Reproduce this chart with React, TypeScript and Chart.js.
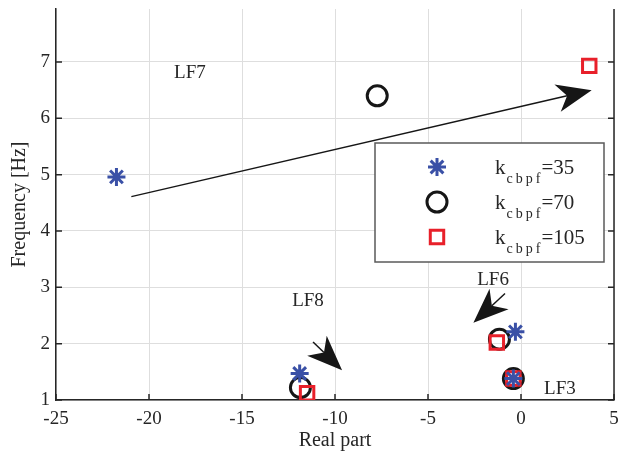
import React, { useEffect, useRef } from "react";
import { Chart, registerables } from "chart.js";

Chart.register(...registerables);

// ---- data ----
const modes = ["LF7", "LF8", "LF6", "LF3"];
const realK35 = [-21.75, -11.9, -0.3, -0.41];
const freqK35 = [4.96, 1.47, 2.21, 1.38];
const realK70 = [-7.73, -11.86, -1.16, -0.41];
const freqK70 = [6.4, 1.22, 2.08, 1.38];
const realK105 = [3.67, -11.5, -1.3, -0.41];
const freqK105 = [6.93, 1.12, 2.02, 1.38];

const seriesNames = ["35", "70", "105"];

// arrows: [x0, y0, x1, y1] in data units
const arrowLF7 = [-20.95, 4.61, 3.8, 6.5];
const arrowLF8 = [-11.18, 2.03, -9.62, 1.53];
const arrowLF6 = [-0.86, 2.89, -2.56, 2.37];
const arrows = [arrowLF7, arrowLF8, arrowLF6];

// annotation labels
const labelText = ["LF7", "LF8", "LF6", "LF3"];
const labelX = [-17.8, -11.45, -1.5, 2.09];
const labelY = [6.8, 2.75, 3.13, 1.19];

const xTicks = [-25, -20, -15, -10, -5, 0, 5];
const yTicks = [1, 2, 3, 4, 5, 6, 7];

const BLUE = "#3a50a6";
const RED = "#e8202a";
const BLACK = "#161616";
const AXIS = "#262626";
const FONT = "'Liberation Serif', 'Times New Roman', serif";

const toPts = (xs: number[], ys: number[]) => xs.map((x, i) => ({ x, y: ys[i] }));

function drawMarker(ctx: CanvasRenderingContext2D, style: string, x: number, y: number, r: number) {
  ctx.beginPath();
  if (style === "circle") {
    ctx.arc(x, y, r, 0, Math.PI * 2);
  } else if (style === "rect") {
    const s = Math.SQRT1_2 * r;
    ctx.rect(x - s, y - s, 2 * s, 2 * s);
  } else {
    for (let k = 0; k < 4; k++) {
      const a = (k * Math.PI) / 4;
      ctx.moveTo(x + Math.cos(a) * r, y + Math.sin(a) * r);
      ctx.lineTo(x - Math.cos(a) * r, y - Math.sin(a) * r);
    }
  }
  ctx.stroke();
}

const overlayPlugin = {
  id: "overlay",
  afterDatasetsDraw(chart: any) {
    const { ctx, chartArea, scales } = chart;
    const xs = scales.x;
    const ys = scales.y;
    ctx.save();

    // right axis line + inward ticks
    ctx.strokeStyle = AXIS;
    ctx.lineWidth = 1.5;
    ctx.beginPath();
    ctx.moveTo(chartArea.right, chartArea.top);
    ctx.lineTo(chartArea.right, chartArea.bottom);
    ctx.stroke();
    yTicks.forEach((v) => {
      const py = ys.getPixelForValue(v);
      ctx.beginPath();
      ctx.moveTo(chartArea.left, py);
      ctx.lineTo(chartArea.left + 6, py);
      ctx.moveTo(chartArea.right, py);
      ctx.lineTo(chartArea.right - 6, py);
      ctx.stroke();
    });
    xTicks.forEach((v) => {
      const px = xs.getPixelForValue(v);
      ctx.beginPath();
      ctx.moveTo(px, chartArea.bottom);
      ctx.lineTo(px, chartArea.bottom - 6);
      ctx.stroke();
    });

    // arrows
    ctx.fillStyle = BLACK;
    ctx.strokeStyle = BLACK;
    arrows.forEach((a) => {
      const x0 = xs.getPixelForValue(a[0]);
      const y0 = ys.getPixelForValue(a[1]);
      const x1 = xs.getPixelForValue(a[2]);
      const y1 = ys.getPixelForValue(a[3]);
      const dx = x1 - x0;
      const dy = y1 - y0;
      const len = Math.hypot(dx, dy);
      const ux = dx / len;
      const uy = dy / len;
      const nx = -uy;
      const ny = ux;
      const L = 35;
      const W = 14;
      const N = 0.72 * L;
      ctx.lineWidth = 1.5;
      ctx.beginPath();
      ctx.moveTo(x0, y0);
      ctx.lineTo(x1 - ux * N, y1 - uy * N);
      ctx.stroke();
      ctx.beginPath();
      ctx.moveTo(x1, y1);
      ctx.lineTo(x1 - ux * L + nx * W, y1 - uy * L + ny * W);
      ctx.lineTo(x1 - ux * N, y1 - uy * N);
      ctx.lineTo(x1 - ux * L - nx * W, y1 - uy * L - ny * W);
      ctx.closePath();
      ctx.fill();
    });

    // text labels
    ctx.fillStyle = AXIS;
    ctx.font = `19px ${FONT}`;
    ctx.textAlign = "center";
    ctx.textBaseline = "middle";
    labelText.forEach((t, i) => {
      ctx.fillText(t, xs.getPixelForValue(labelX[i]), ys.getPixelForValue(labelY[i]));
    });

    // legend
    const bx = chartArea.left + 319;
    const by = chartArea.top + 134;
    const bw = 229;
    const bh = 119;
    ctx.fillStyle = "#ffffff";
    ctx.fillRect(bx, by, bw, bh);
    ctx.strokeStyle = "#5a5a5a";
    ctx.lineWidth = 1.5;
    ctx.strokeRect(bx, by, bw, bh);
    const styles = [
      { style: "star", color: BLUE, r: 9, w: 3 },
      { style: "circle", color: BLACK, r: 10, w: 3 },
      { style: "rect", color: RED, r: 9.5, w: 3 },
    ];
    seriesNames.forEach((name, i) => {
      const cy = by + 24 + i * 35;
      const s = styles[i];
      ctx.strokeStyle = s.color;
      ctx.lineWidth = s.w;
      drawMarker(ctx, s.style, chartArea.left + 381, cy, s.r);
      const tx = chartArea.left + 439;
      const base = cy + 7;
      ctx.fillStyle = AXIS;
      ctx.textAlign = "left";
      ctx.textBaseline = "alphabetic";
      ctx.font = `21px ${FONT}`;
      ctx.fillText("k", tx, base);
      let cx = tx + ctx.measureText("k").width;
      ctx.font = `14px ${FONT}`;
      for (const ch of "cbpf") {
        ctx.fillText(ch, cx + 1, base + 9);
        cx += ctx.measureText(ch).width + 3;
      }
      ctx.font = `21px ${FONT}`;
      ctx.fillText("=" + name, cx - 1, base);
    });

    ctx.restore();
  },
};

export default function App() {
  const ref = useRef<HTMLCanvasElement | null>(null);
  useEffect(() => {
    document.body.style.margin = "0";
    const canvas = ref.current;
    if (!canvas) return;
    const chart = new Chart(canvas, {
      type: "scatter",
      data: {
        labels: modes,
        datasets: [
          {
            label: "k35",
            data: toPts(realK35, freqK35),
            pointStyle: "star",
            pointRadius: 9,
            pointBorderWidth: 3,
            borderColor: BLUE,
            backgroundColor: "rgba(0,0,0,0)",
            order: 0,
          },
          {
            label: "k70",
            data: toPts(realK70, freqK70),
            pointStyle: "circle",
            pointRadius: 10,
            pointBorderWidth: 3,
            borderColor: BLACK,
            backgroundColor: "rgba(0,0,0,0)",
            order: 2,
          },
          {
            label: "k105",
            data: toPts(realK105, freqK105),
            pointStyle: "rect",
            pointRadius: 9.5,
            pointBorderWidth: 3,
            borderColor: RED,
            backgroundColor: "rgba(0,0,0,0)",
            order: 1,
          },
        ],
      },
      options: {
        animation: false,
        responsive: false,
        maintainAspectRatio: false,
        layout: { autoPadding: false, padding: { top: 9, right: 4, left: 0, bottom: 0 } },
        plugins: {
          legend: { display: false },
          tooltip: { enabled: false },
        },
        scales: {
          x: {
            type: "linear",
            min: -25,
            max: 5,
            afterBuildTicks: (s: any) => {
              s.ticks = xTicks.map((v) => ({ value: v }));
            },
            afterFit: (s: any) => {
              s.height = 56;
              s.paddingLeft = 0;
              s.paddingRight = 0;
            },
            ticks: {
              color: AXIS,
              font: { family: FONT, size: 19 },
              padding: 8,
              maxRotation: 0,
              autoSkip: false,
            },
            grid: { color: "#dedede", lineWidth: 1, drawTicks: false },
            border: { display: true, color: AXIS, width: 1.5 },
            title: {
              display: true,
              text: "Real part",
              color: AXIS,
              font: { family: FONT, size: 20 },
              padding: { top: 0, bottom: 3 },
            },
          },
          y: {
            type: "linear",
            min: 1,
            max: 7.94,
            afterBuildTicks: (s: any) => {
              s.ticks = yTicks.map((v) => ({ value: v }));
            },
            afterFit: (s: any) => {
              s.width = 56;
              s.paddingTop = 0;
              s.paddingBottom = 0;
            },
            ticks: {
              color: AXIS,
              font: { family: FONT, size: 19 },
              padding: 6,
              autoSkip: false,
            },
            grid: { color: "#dedede", lineWidth: 1, drawTicks: false },
            border: { display: true, color: AXIS, width: 1.5 },
            title: {
              display: true,
              text: "Frequency [Hz]",
              color: AXIS,
              font: { family: FONT, size: 20 },
              padding: { top: 8, bottom: 0 },
            },
          },
        },
      },
      plugins: [overlayPlugin],
    });
    return () => chart.destroy();
  }, []);
  return (
    <div style={{ width: 618, height: 456 }}>
      <canvas ref={ref} width={618} height={456} style={{ display: "block" }} />
    </div>
  );
}
